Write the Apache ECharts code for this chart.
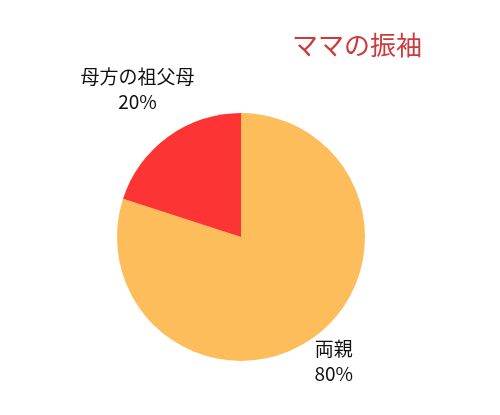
<!DOCTYPE html>
<html>
<head>
<meta charset="utf-8">
<script src="https://cdn.jsdelivr.net/npm/echarts@6/dist/echarts.min.js"></script>
<style>
html,body{margin:0;padding:0;background:#fff;}
#chart{width:500px;height:415px;}
</style>
</head>
<body>
<div id="chart"></div>
<script>
const titleText = 'ママの振袖';
const categories = ['両親', '母方の祖父母'];
const values = [80, 20];
const colors = ['#FDBD5B', '#FC3434'];

const FONT = '"Noto Sans CJK JP", "Noto Sans", sans-serif';
const lineLens = [[30, -22], [59, -66]];

const chart = echarts.init(document.getElementById('chart'), null, {renderer: 'canvas'});
chart.setOption({
  backgroundColor: '#ffffff',
  animation: false,
  title: {
    text: titleText,
    left: 287,
    top: 27,
    textStyle: {color: '#CC3B3B', fontSize: 26, fontWeight: 'normal', fontFamily: FONT}
  },
  series: [{
    type: 'pie',
    center: [241, 237],
    radius: 124,
    startAngle: 90,
    clockwise: true,
    avoidLabelOverlap: false,
    label: {
      show: true,
      position: 'outside',
      formatter: '{c|{b}}\n{c|{d}%}',
      color: '#111',
      fontSize: 19,
      fontFamily: FONT,
      rich: {
        c: {align: 'center', fontSize: 19, fontFamily: FONT, color: '#111', lineHeight: 25}
      }
    },
    labelLine: {show: false},
    emphasis: {disabled: true},
    data: categories.map((name, i) => ({
      name: name,
      value: values[i],
      itemStyle: {color: colors[i]},
      labelLine: {show: false, length: lineLens[i][0], length2: lineLens[i][1]}
    }))
  }]
});
</script>
</body>
</html>
